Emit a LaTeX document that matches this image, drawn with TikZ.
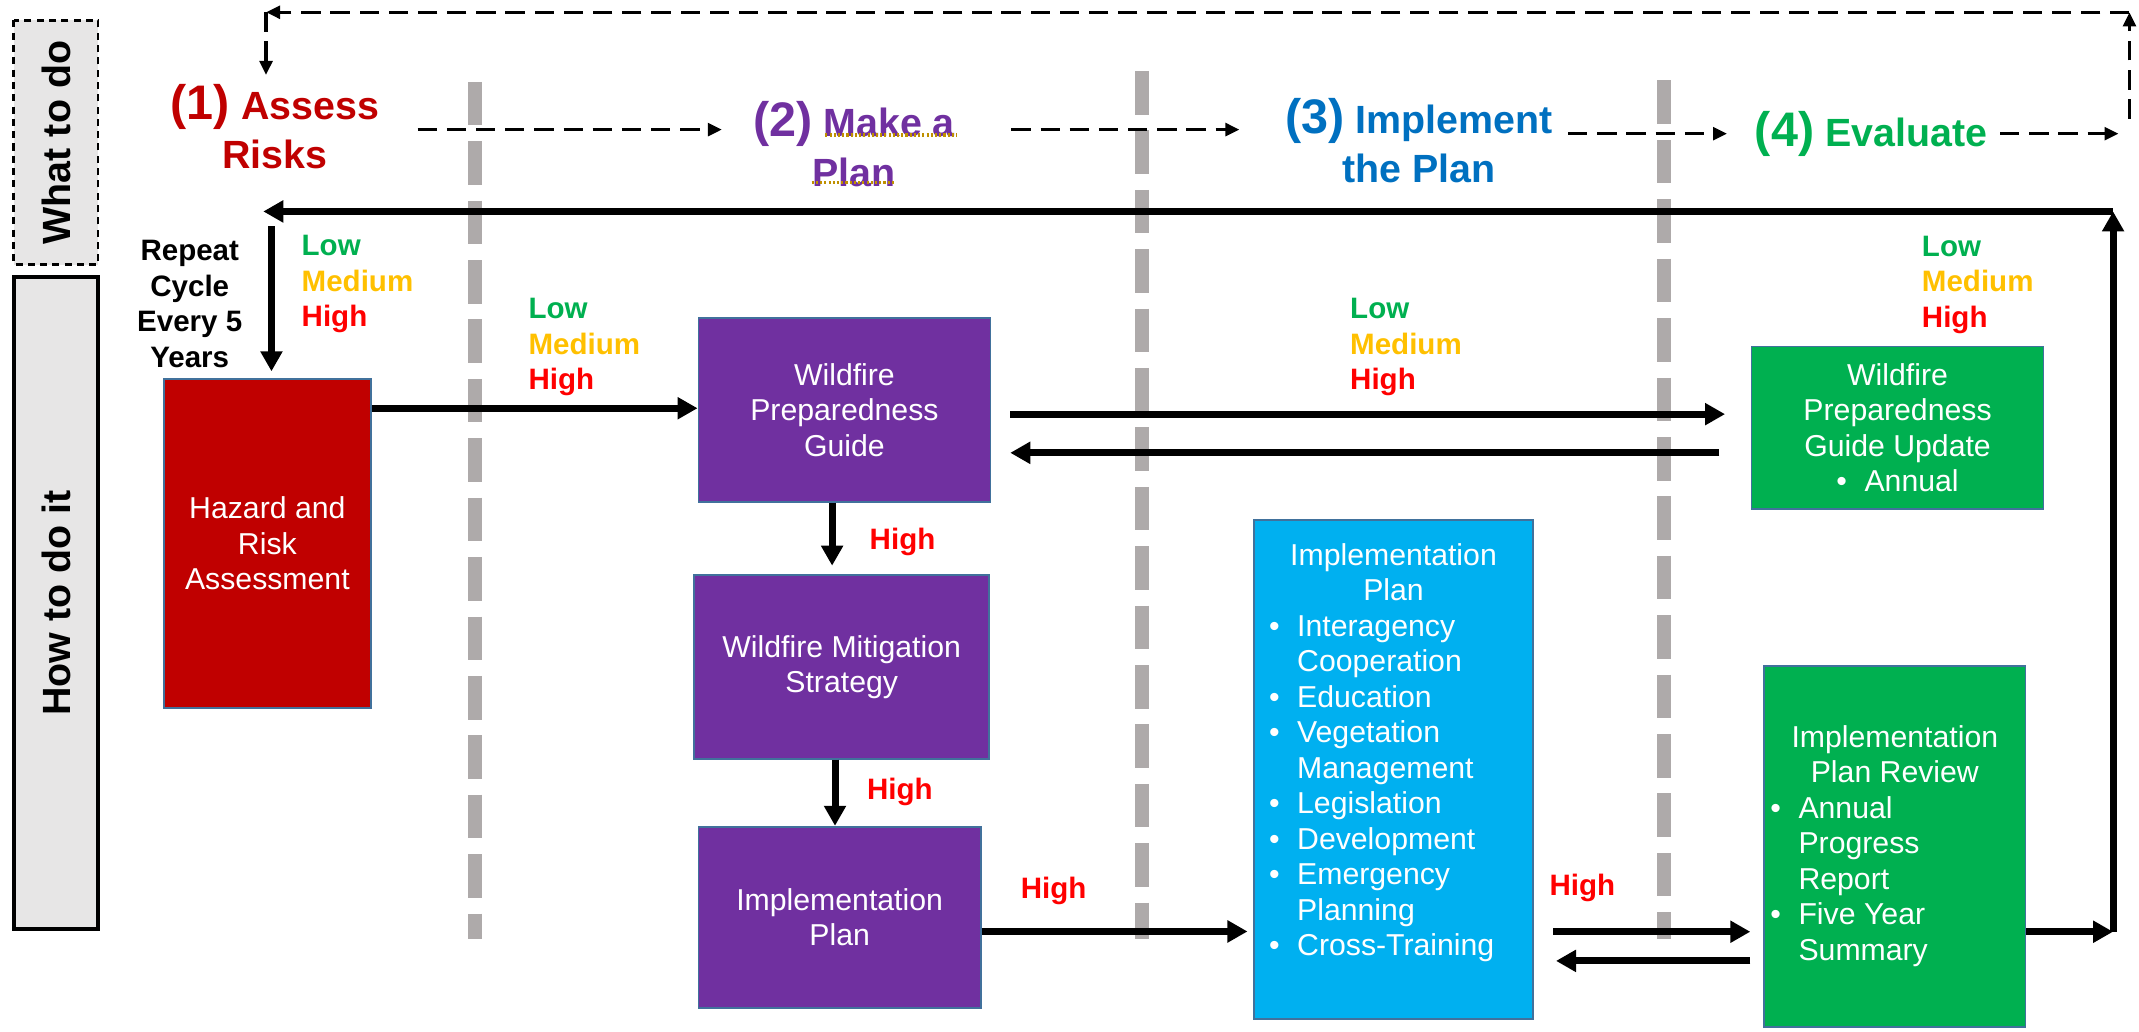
\documentclass[tikz,border=0pt]{standalone}
\usepackage{fontspec}
\setmainfont{Liberation Sans}
\usetikzlibrary{arrows.meta,positioning}

\definecolor{riskred}{HTML}{C00000}
\definecolor{planpurple}{HTML}{7030A0}
\definecolor{implblue}{HTML}{0070C0}
\definecolor{evalgreen}{HTML}{00B050}
\definecolor{implcyan}{HTML}{00B0F0}
\definecolor{medgold}{HTML}{FFC000}
\definecolor{highred}{HTML}{FF0000}
\definecolor{sepgray}{HTML}{AEAAAA}
\definecolor{panelgray}{HTML}{E7E6E6}
\definecolor{edgeblue}{HTML}{41719C}
\definecolor{squiggle}{HTML}{BF9000}

\newcommand{\pxu}{0.1364mm}
\newcommand{\lmh}{{\color{evalgreen}Low}\\{\color{medgold}Medium}\\{\color{highred}High}}
\newcommand{\stepnum}[1]{{\fontsize{13.8}{14}\selectfont(#1)}}
\newcommand{\itm}{\makebox[8pt][l]{\textbullet}}

\begin{document}
\begin{tikzpicture}[
	x=0.1364mm, y=-0.1364mm,
	flow/.style={line width=2pt, -{Triangle[length=5.7pt,width=6pt]}},
	cyc/.style={line width=1pt, dash pattern=on 5.5pt off 2.8pt, -{Triangle[length=4pt,width=3.6pt]}},
	sep/.style={line width=4pt, sepgray, dash pattern=on 12.4pt off 4.5pt},
	box/.style={draw=edgeblue, line width=0.5pt, text=white, align=center, inner sep=0pt,
		font=\fontsize{8.6}{10.1}\selectfont},
	head/.style={inner sep=0pt, align=center, font=\fontsize{11.2}{14}\selectfont\bfseries},
	lvl/.style={inner sep=0pt, align=left, font=\fontsize{8.4}{10.1}\selectfont\bfseries},
	panel/.style={fill=panelgray, rotate=90, inner sep=0pt, font=\fontsize{11.2}{13}\selectfont\bfseries}]
\useasboundingbox (0,0) rectangle (1568,756);

% phase separators
\foreach \sx/\sy in {348/60, 837/52, 1220/59}
	\draw[sep] (\sx,\sy) -- (\sx,688);

% side panels
\node[panel, draw, line width=0.7pt, dash pattern=on 2pt off 1.5pt,
	minimum width=179*\pxu, minimum height=62*\pxu] (what) at (41,104.5) {What to do};
\node[panel, draw, line width=1.1pt,
	minimum width=478*\pxu, minimum height=62*\pxu] (how) at (41,442) {How to do it};

% the four steps
\node[head, text=riskred] (assess) at (201.5,93) {\stepnum{1} Assess\\Risks};
\node[head, text=planpurple] (plan) at (626,105.6) {\stepnum{2} Make a\\Plan};
\node[head, text=implblue] (implement) at (1040,103) {\stepnum{3} Implement\\the Plan};
\node[head, text=evalgreen] (evaluate) at (1371.5,98) {\stepnum{4} Evaluate};
\draw[squiggle, line width=0.9pt, dash pattern=on 0.6pt off 0.6pt] (605,99) -- (701,99);
\draw[squiggle, line width=0.9pt, dash pattern=on 0.6pt off 0.6pt] (595,134) -- (655,134);

\coordinate (lane) at (0,95);
\draw[cyc, shorten <=10.8pt, shorten >=8.7pt] (assess.east |- lane) -- (plan.west |- lane);
\draw[cyc, shorten <=15.9pt, shorten >=12.8pt] (plan.east |- lane) -- (implement.west |- lane);
\draw[cyc, shorten <=4.3pt, shorten >=7.7pt] (implement.east |- evaluate.west) -- (evaluate.west);

% dashed loop back to step 1
\coordinate (evalEnd) at (1553,98);
\coordinate (cycA) at (1561,87);
\coordinate (cycB) at (1561,9);
\coordinate (cycC) at (195,9);
\coordinate (cycD) at (195,55);
\draw[cyc, shorten <=3.5pt] (evaluate.east) -- (evalEnd);
\draw[cyc] (cycA) -- (cycB);
\draw[cyc] (cycB) -- (cycC);
\draw[cyc] (cycC) -- (cycD);

% boxes
\node[box, fill=riskred, minimum width=152*\pxu, minimum height=241*\pxu] (hra) at (196,398.5)
	{Hazard and\\Risk\\Assessment};
\node[box, fill=planpurple, minimum width=214*\pxu, minimum height=135*\pxu] (guide) at (619,300.5)
	{Wildfire\\Preparedness\\Guide};
\node[box, fill=planpurple, minimum width=216*\pxu, minimum height=134.5*\pxu] (strat) at (617,489)
	{Wildfire Mitigation\\Strategy};
\node[box, fill=planpurple, minimum width=207*\pxu, minimum height=133*\pxu] (iplan) at (615.5,672.5)
	{Implementation\\Plan};
\node[box, fill=implcyan, minimum width=205*\pxu, minimum height=366*\pxu] (impl) at (1021.5,564) {};
\node[box, draw=none] (impllist) at ([yshift=4.6pt]impl.center)
	{\begin{tabular}{@{}l@{}l@{}}
	\multicolumn{2}{c}{Implementation}\\
	\multicolumn{2}{c}{Plan}\\
	\itm & Interagency\\
	     & Cooperation\\
	\itm & Education\\
	\itm & Vegetation\\
	     & Management\\
	\itm & Legislation\\
	\itm & Development\\
	\itm & Emergency\\
	     & Planning\\
	\itm & Cross-Training
	\end{tabular}};
\node[box, fill=evalgreen, minimum width=214*\pxu, minimum height=119*\pxu] (update) at (1391,313.5)
	{Wildfire\\Preparedness\\Guide Update\\\itm Annual};
\node[box, fill=evalgreen, minimum width=191.5*\pxu, minimum height=265*\pxu] (review) at (1389,620.5)
	{\begin{tabular}{@{}l@{}l@{}}
	\multicolumn{2}{c}{Implementation}\\
	\multicolumn{2}{c}{Plan Review}\\
	\itm & Annual\\
	     & Progress\\
	     & Report\\
	\itm & Five Year\\
	     & Summary
	\end{tabular}};
\node[lvl, above left=3.2pt and 2.9pt of update.north east] (lmhD) {\lmh};

% feedback loop
\coordinate (loopR) at (1549,683);
\coordinate (loopT) at (1549,155);
\coordinate (loopL) at (193,155);
\coordinate (rep) at (199,166);
\draw[flow] (review.east |- loopR) -- (loopR);
\draw[flow] (loopR) -- (loopT);
\draw[flow] (loopT) -- (loopL);
\draw[flow, shorten >=2pt] (rep) -- (rep |- hra.north)
	node[lvl, pos=.38, anchor=west, xshift=7.6pt] (lmhA) {\lmh}
	node[lvl, pos=.51, anchor=east, xshift=-7.3pt, align=center] (repeat) {Repeat\\Cycle\\Every 5\\Years};

% flows between the boxes
\coordinate (hraOut) at ([yshift=-8.5pt]hra.north east);
\draw[flow] (hraOut) -- (hraOut -| guide.west)
	node[lvl, pos=.47, anchor=west, yshift=17.4pt] (lmhB) {\lmh};

\coordinate (guideOut) at ([yshift=-1.2pt]guide.east);
\coordinate (guideIn) at ([yshift=-12.2pt]guide.east);
\draw[flow, shorten <=5.4pt, shorten >=7.3pt] (guideOut) -- (guideOut -| update.west)
	node[lvl, pos=.468, anchor=west, yshift=19.1pt] (lmhC) {\lmh};
\draw[flow, shorten <=8.9pt, shorten >=5.4pt] (guideIn -| update.west) -- (guideIn);

\coordinate (planDown) at ([xshift=-3.5pt]guide.south);
\draw[flow, shorten >=2.5pt] (planDown) -- (planDown |- strat.north)
	node[lvl, pos=.54, anchor=west, xshift=9.7pt, text=highred] (hiA) {High};
\coordinate (stratDown) at ([xshift=-1.9pt]strat.south);
\draw[flow] (stratDown) -- (stratDown |- iplan.north)
	node[lvl, pos=.48, anchor=west, xshift=8.1pt, text=highred] (hiB) {High};

\coordinate (iplanOut) at ([yshift=-4pt]iplan.east);
\draw[flow, shorten >=1.5pt] (iplanOut) -- (iplanOut -| impl.west)
	node[lvl, pos=.265, yshift=11.6pt, text=highred] (hiC) {High};

\coordinate (backIn) at ([yshift=-8.3pt]loopR);
\draw[flow, shorten <=5.4pt, shorten >=3.7pt] (impl.east |- loopR) -- (review.west |- loopR)
	node[lvl, pos=.21, yshift=12.4pt, text=highred] (hiD) {High};
\draw[flow, shorten <=3.7pt, shorten >=6.2pt] (review.west |- backIn) -- (impl.east |- backIn);
\end{tikzpicture}
\end{document}
